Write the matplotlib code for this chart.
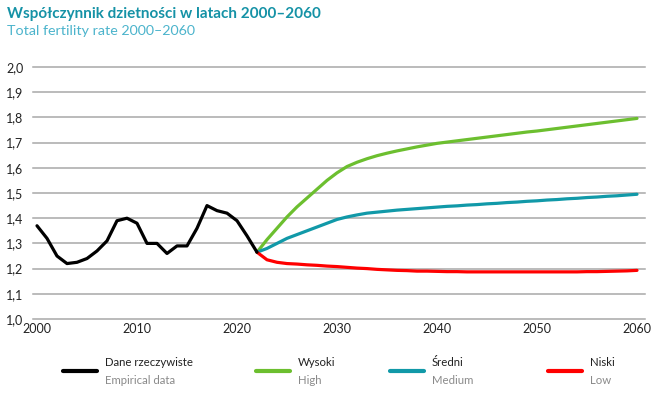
import numpy as np
import matplotlib.pyplot as plt
from matplotlib.lines import Line2D

plt.rcParams['font.family'] = ['Lato', 'DejaVu Sans']

# dane rzeczywiste
lata_emp = list(range(2000, 2023))
emp = [1.37, 1.32, 1.25, 1.22, 1.225, 1.24, 1.27, 1.31, 1.39, 1.40, 1.38, 1.30,
       1.30, 1.26, 1.29, 1.29, 1.36, 1.45, 1.43, 1.42, 1.39, 1.33, 1.265]

# prognozy
lata_prog = list(range(2022, 2061))
wysoki = [1.265, 1.315, 1.36, 1.405, 1.445, 1.48, 1.515, 1.55, 1.58, 1.605,
          1.622, 1.636, 1.648, 1.658, 1.667, 1.675, 1.683, 1.69, 1.697, 1.702,
          1.707, 1.712, 1.717, 1.722, 1.727, 1.732, 1.737, 1.742, 1.746, 1.751,
          1.756, 1.761, 1.766, 1.771, 1.776, 1.781, 1.786, 1.791, 1.796]
sredni = [1.265, 1.28, 1.30, 1.32, 1.335, 1.35, 1.365, 1.38, 1.395, 1.405,
          1.413, 1.42, 1.424, 1.428, 1.432, 1.435, 1.438, 1.441, 1.444, 1.447,
          1.449, 1.452, 1.454, 1.457, 1.459, 1.462, 1.464, 1.467, 1.469, 1.472,
          1.474, 1.477, 1.479, 1.482, 1.484, 1.487, 1.489, 1.492, 1.495]
niski = [1.265, 1.235, 1.225, 1.22, 1.218, 1.215, 1.213, 1.21, 1.208, 1.205,
         1.202, 1.20, 1.197, 1.195, 1.193, 1.192, 1.19, 1.19, 1.189, 1.188,
         1.188, 1.187, 1.187, 1.187, 1.187, 1.187, 1.187, 1.187, 1.187, 1.187,
         1.187, 1.187, 1.187, 1.188, 1.188, 1.189, 1.19, 1.191, 1.193]

serie_pl = ['Dane rzeczywiste', 'Wysoki', 'Średni', 'Niski']
serie_en = ['Empirical data', 'High', 'Medium', 'Low']
kolory = ['#000000', '#6cbf2f', '#1199a8', '#ff0000']

y_ticks = [1.0, 1.1, 1.2, 1.3, 1.4, 1.5, 1.6, 1.7, 1.8, 1.9, 2.0]
x_ticks = [2000, 2010, 2020, 2030, 2040, 2050, 2060]

fig = plt.figure(figsize=(6.58, 3.93), dpi=100)
ax = fig.add_axes([33 / 658, 1 - 319 / 393, (645 - 33) / 658, (319 - 67) / 393])

for y in y_ticks:
    ax.axhline(y, color='#a8a8a8', lw=1.1, zorder=0, clip_on=False)

ax.plot(lata_prog, wysoki, color=kolory[1], lw=2.3, solid_capstyle='round')
ax.plot(lata_prog, sredni, color=kolory[2], lw=2.3, solid_capstyle='round')
ax.plot(lata_prog, niski, color=kolory[3], lw=2.3, solid_capstyle='round')
ax.plot(lata_emp, emp, color=kolory[0], lw=2.3, solid_capstyle='round')

ax.set_xlim(1999.6, 2060.8)
ax.set_ylim(1.0, 2.0)
ax.set_yticks(y_ticks)
ax.set_yticklabels([f'{v:.1f}'.replace('.', ',') for v in y_ticks])
ax.set_xticks(x_ticks)
ax.set_xticklabels([str(v) for v in x_ticks])
ax.tick_params(length=0, labelsize=9, colors='#222222')
ax.tick_params(axis='y', pad=7)
ax.tick_params(axis='x', pad=3)
for s in ax.spines.values():
    s.set_visible(False)

fig.text(7 / 658, 1 - 14 / 393, 'Współczynnik dzietności w latach 2000–2060',
         fontsize=11, fontweight='bold', color='#1592a6', va='center')
fig.text(7 / 658, 1 - 31 / 393, 'Total fertility rate 2000–2060',
         fontsize=10.3, color='#4cb4cc', va='center')

# legenda
leg_x = [63, 256, 390, 548]
for i in range(4):
    x0 = leg_x[i]
    fig.add_artist(Line2D([x0 / 658, (x0 + 34) / 658], [1 - 371 / 393] * 2,
                          color=kolory[i], lw=3, solid_capstyle='round'))
    fig.text((x0 + 42) / 658, 1 - 362 / 393, serie_pl[i], fontsize=8.2,
             color='#222222', va='center')
    fig.text((x0 + 42) / 658, 1 - 380 / 393, serie_en[i], fontsize=8.2,
             color='#8a8a8a', va='center')

fig.savefig('out.png', dpi=100)
